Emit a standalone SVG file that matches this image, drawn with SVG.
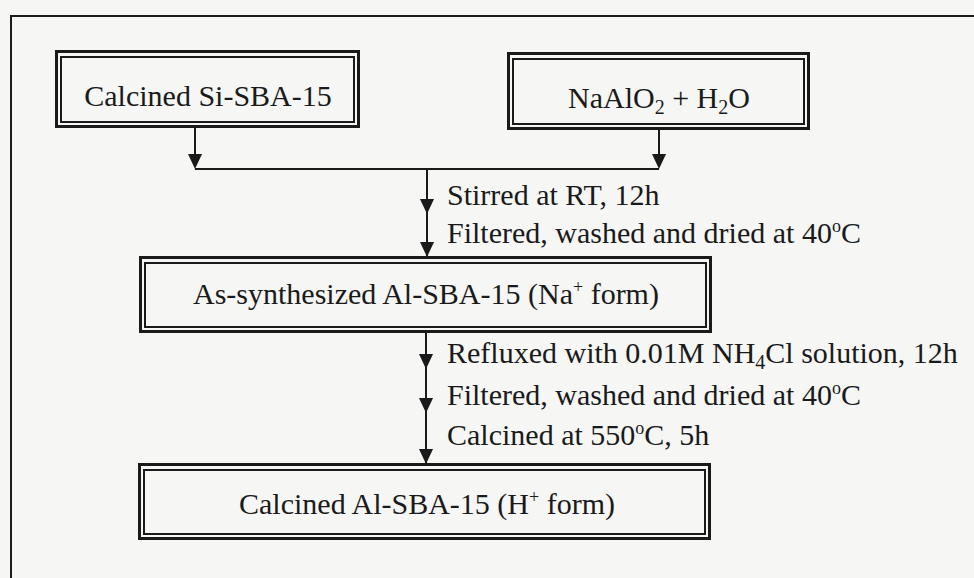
<svg xmlns="http://www.w3.org/2000/svg" width="974" height="578" viewBox="0 0 974 578">
<style>
.bg{fill:#f6f6f5}
.frame{fill:none;stroke:#1c1c1c;stroke-width:2}
.bo{fill:none;stroke:#1a1a1a;stroke-width:3}
.bi{fill:none;stroke:#1a1a1a;stroke-width:2}
.ln{fill:none;stroke:#1a1a1a;stroke-width:2}
text{font-family:"Liberation Serif","Times New Roman",serif;font-size:30px;fill:#1a1a1a}
.c{text-anchor:middle}
.sub{font-size:20px}
.sup{font-size:18px}
</style>
<defs>
<marker id="ah" markerUnits="userSpaceOnUse" markerWidth="14" markerHeight="15" viewBox="0 0 14 15" refX="7" refY="15" orient="auto-start-reverse">
<path d="M0,0 L14,0 L7,15 Z" fill="#1a1a1a" transform="rotate(0)"/>
</marker>
</defs>
<rect class="bg" x="0" y="0" width="974" height="578"/>
<rect class="frame" x="11" y="16" width="1000" height="600"/>

<g id="connectors">
<path class="ln" d="M195,128 V154"/>
<path d="M188,154 L202,154 L195,169 Z" fill="#1a1a1a"/>
<path class="ln" d="M659,130 V154"/>
<path d="M652,154 L666,154 L659,169 Z" fill="#1a1a1a"/>
<path class="ln" d="M195,169 H659"/>
<path class="ln" d="M427,169 V256"/>
<path d="M420,199 L434,199 L427,214 Z" fill="#1a1a1a"/>
<path d="M420,242 L434,242 L427,257 Z" fill="#1a1a1a"/>
<path class="ln" d="M426,333 V463"/>
<path d="M419,354 L433,354 L426,369 Z" fill="#1a1a1a"/>
<path d="M419,398 L433,398 L426,413 Z" fill="#1a1a1a"/>
<path d="M419,449 L433,449 L426,464 Z" fill="#1a1a1a"/>
</g>

<g id="node-si-sba15">
<rect class="bo" x="56.5" y="51.5" width="302" height="75"/>
<rect class="bi" x="61" y="57" width="293" height="65"/>
<text class="c" x="208" y="106">Calcined Si-SBA-15</text>
</g>

<g id="node-naalo2">
<rect class="bo" x="508.5" y="53.5" width="300" height="75"/>
<rect class="bi" x="513" y="59" width="291" height="65"/>
<text class="c" x="659" y="108">NaAlO<tspan class="sub" dy="6">2</tspan><tspan dy="-6"> + H</tspan><tspan class="sub" dy="6">2</tspan><tspan dy="-6">O</tspan></text>
</g>

<g id="step1">
<text x="447" y="205">Stirred at RT, 12h</text>
<text x="447" y="243">Filtered, washed and dried at 40<tspan class="sup" dy="-11">o</tspan><tspan dy="11">C</tspan></text>
</g>

<g id="node-as-synth">
<rect class="bo" x="140.5" y="257.5" width="570" height="74"/>
<rect class="bi" x="145" y="263" width="561" height="64"/>
<text class="c" x="426" y="304">As-synthesized Al-SBA-15 (Na<tspan class="sup" dy="-11">+</tspan><tspan dy="11"> form)</tspan></text>
</g>

<g id="step2">
<text x="447" y="363">Refluxed with 0.01M NH<tspan class="sub" dy="6">4</tspan><tspan dy="-6">Cl solution, 12h</tspan></text>
<text x="447" y="405">Filtered, washed and dried at 40<tspan class="sup" dy="-11">o</tspan><tspan dy="11">C</tspan></text>
<text x="447" y="445">Calcined at 550<tspan class="sup" dy="-11">o</tspan><tspan dy="11">C, 5h</tspan></text>
</g>

<g id="node-calcined-al">
<rect class="bo" x="139.5" y="464.5" width="570" height="74"/>
<rect class="bi" x="144" y="470" width="561" height="64"/>
<text class="c" x="427" y="514">Calcined Al-SBA-15 (H<tspan class="sup" dy="-11">+</tspan><tspan dy="11"> form)</tspan></text>
</g>
</svg>
